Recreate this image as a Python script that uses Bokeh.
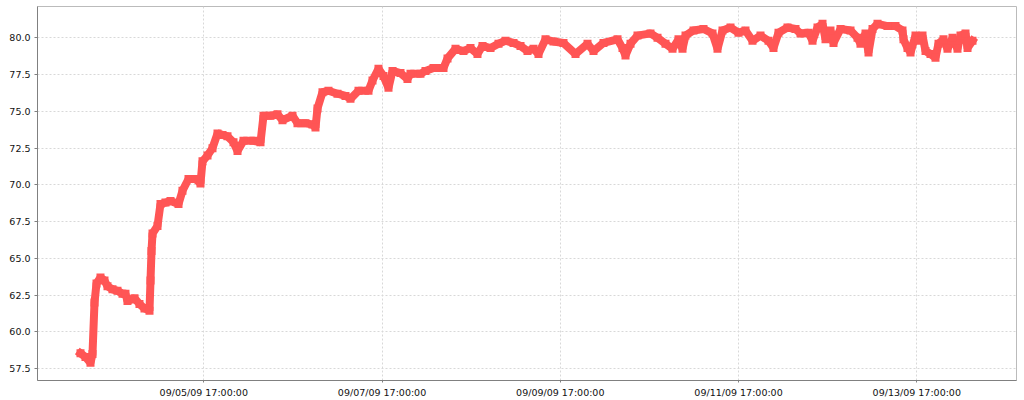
import pandas as pd
from bokeh.plotting import figure
from bokeh.models import FixedTicker, DatetimeTickFormatter, PrintfTickFormatter, Range1d
from bokeh.embed import file_html
from bokeh.resources import INLINE

# ---- data ----
start = "2009-09-04 00:00"
# hours since start
hours = [7.80, 9.14, 10.49, 11.03, 11.57, 12.11, 13.18, 14.26, 15.07, 16.41, 17.76, 19.11, 19.91,
         20.45, 21.26, 22.34, 23.68, 25.03, 26.38, 26.65, 26.92, 27.19, 28.53, 29.34, 30.69, 32.03,
         34.19, 35.26, 36.88, 38.76, 40.11, 40.65, 42.0, 43.34, 44.69, 46.04, 47.38, 49.0, 50.08,
         51.69, 54.38, 56.27, 57.08, 58.96, 60.85, 62.19, 64.89, 66.23, 68.39, 70.27, 71.08, 71.62,
         72.96, 74.58, 77.0, 79.16, 80.50, 82.66, 85.35, 86.43, 88.04, 89.39, 90.74, 91.82, 93.97,
         95.85, 96.66, 99.35, 100.70, 102.86, 105.55, 106.63, 108.78, 110.93, 112.82, 114.70,
         116.05, 118.21, 120.36, 122.25, 124.40, 126.29, 128.17, 129.79, 131.13, 133.02, 135.17,
         137.86, 141.10, 144.33, 145.94, 148.63, 152.41, 153.75, 154.56, 155.91, 157.79, 161.29,
         163.18, 165.33, 167.22, 168.83, 169.91, 170.72, 172.87, 175.56, 177.99, 179.33, 180.68,
         182.84, 184.99, 186.87, 188.76, 190.91, 193.07, 194.41, 195.76, 198.18, 200.34, 201.69,
         203.84, 204.92, 206.26, 207.61, 208.42, 209.76, 210.57, 212.46, 215.15, 217.04, 217.84,
         219.19, 220.0, 221.08, 222.42, 225.11, 227.27, 229.15, 229.42, 230.50, 231.31, 232.65,
         233.46, 234.54, 235.35, 236.69, 238.04, 238.85, 240.19, 241.27, 242.62, 243.96, 244.77,
         246.12, 246.66, 248.0]
values = [58.55, 58.3, 57.9, 58.5, 62.0, 63.3, 63.7, 63.5, 63.1, 62.9, 62.8, 62.6, 62.6,
          62.1, 62.2, 62.3, 61.9, 61.6, 61.45, 63.5, 65.5, 66.7, 67.2, 68.7, 68.8, 68.9,
          68.7, 69.6, 70.4, 70.4, 70.1, 71.6, 72.0, 72.5, 73.5, 73.4, 73.3, 72.9, 72.3,
          73.0, 73.0, 72.9, 74.7, 74.7, 74.8, 74.4, 74.7, 74.2, 74.2, 74.1, 73.9, 75.2,
          76.3, 76.4, 76.2, 76.05, 75.85, 76.4, 76.4, 77.1, 77.9, 77.4, 76.6, 77.75, 77.6,
          77.2, 77.55, 77.55, 77.75, 77.95, 77.95, 78.6, 79.25, 79.1, 79.3, 78.9,
          79.45, 79.3, 79.6, 79.8, 79.65, 79.45, 79.1, 79.25, 78.9, 79.9, 79.75,
          79.65, 78.9, 79.6, 79.1, 79.65, 79.9, 79.3, 78.8, 79.6, 80.15, 80.3,
          80.0, 79.6, 79.25, 79.9, 79.25, 80.15, 80.5, 80.6, 80.3, 79.25, 80.5,
          80.7, 80.35, 80.5, 79.8, 80.15, 79.8, 79.3, 80.35, 80.7, 80.6, 80.3,
          80.35, 79.8, 80.7, 80.95, 79.9, 80.5, 79.65, 80.6, 80.5, 80.0, 79.6,
          80.3, 79.0, 80.6, 80.95, 80.8, 80.8, 80.5, 79.9, 79.3, 79.0, 80.15,
          79.8, 80.15, 79.1, 78.9, 78.65, 79.6, 79.9, 79.25, 80.0, 79.25, 80.15,
          80.3, 79.3, 79.8]
x_ticks = ["2009-09-05 17:00", "2009-09-07 17:00", "2009-09-09 17:00",
           "2009-09-11 17:00", "2009-09-13 17:00"]
y_ticks = [57.5, 60.0, 62.5, 65.0, 67.5, 70.0, 72.5, 75.0, 77.5, 80.0]

t0 = pd.Timestamp(start)
times = [t0 + pd.Timedelta(hours=h) for h in hours]

x_start = t0 + pd.Timedelta(hours=-3.78)
x_end = t0 + pd.Timedelta(hours=259.85)

p = figure(width=1024, height=400, x_axis_type="datetime",
           output_backend="svg", toolbar_location=None,
           x_range=Range1d(x_start, x_end), y_range=Range1d(56.70, 82.13),
           min_border_left=37, min_border_right=8, min_border_top=6, min_border_bottom=20)

color = "#FF5555"
p.line(times, values, line_width=8, line_color=color, line_join="bevel", line_cap="square")
p.scatter(times, values, marker="square", size=8, fill_color=color, line_color=None)

tick_ms = [pd.Timestamp(t).value / 1e6 for t in x_ticks]
p.xaxis.ticker = FixedTicker(ticks=tick_ms)
fmt = "%m/%d/%y %H:%M:%S"
p.xaxis.formatter = DatetimeTickFormatter(milliseconds=fmt, seconds=fmt, minsec=fmt, minutes=fmt,
                                          hourmin=fmt, hours=fmt, days=fmt, months=fmt, years=fmt)
p.yaxis.ticker = FixedTicker(ticks=y_ticks)
p.yaxis.formatter = PrintfTickFormatter(format="%.1f")

for ax in (p.xaxis, p.yaxis):
    ax.axis_line_color = "#808080"
    ax.major_tick_line_color = "#808080"
    ax.major_tick_in = 0
    ax.minor_tick_line_color = None
    ax.major_label_text_font = "DejaVu Sans"
    ax.major_label_text_font_size = "9.5px"
    ax.major_label_text_color = "#111111"
p.xaxis.major_tick_out = 2
p.yaxis.major_tick_out = 3
p.xaxis.major_label_standoff = 4
p.yaxis.major_label_standoff = 4

p.xgrid.grid_line_color = "#d8d8d8"
p.ygrid.grid_line_color = "#d8d8d8"
p.xgrid.grid_line_dash = "2 2"
p.ygrid.grid_line_dash = "2 2"
p.outline_line_color = "#bbbbbb"
p.background_fill_color = "white"
p.border_fill_color = "white"

open("out.html", "w").write(file_html(p, INLINE))
